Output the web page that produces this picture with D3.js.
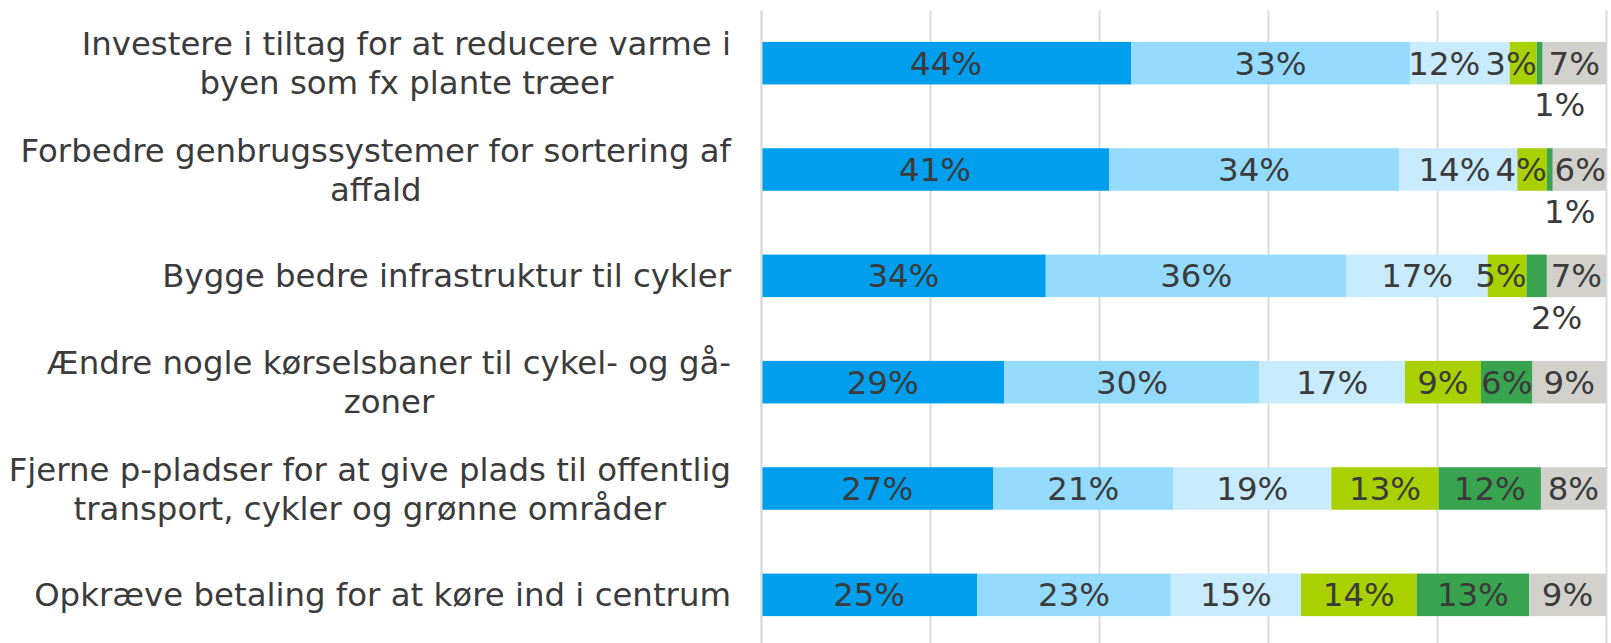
<!DOCTYPE html>
<html>
<head lang="da">
    <meta charset="UTF-8">
    <title>Tiltag</title>
    <style>
        body { margin: 0; background: #fff; }
        text { font-family: "DejaVu Sans", Verdana, sans-serif; fill: #3b3b3b; }
    </style>
</head>
<body>
<div id="chart"></div>
<script src="https://cdn.jsdelivr.net/npm/d3@7/dist/d3.min.js"></script>
<script>
// categories, top to bottom (line breaks as in the original)
var categories = [
    "Investere i tiltag for at reducere varme i\nbyen som fx plante træer",
    "Forbedre genbrugssystemer for sortering af\naffald",
    "Bygge bedre infrastruktur til cykler",
    "Ændre nogle kørselsbaner til cykel- og gå-\nzoner",
    "Fjerne p-pladser for at give plads til offentlig\ntransport, cykler og grønne områder",
    "Opkræve betaling for at køre ind i centrum"
];

// bar shares, one array per segment
var s1 = [43.8, 41.2, 33.7, 28.8, 27.5, 25.6];
var s2 = [33.0, 34.3, 35.6, 30.2, 21.3, 22.9];
var s3 = [11.8, 14.0, 16.7, 17.2, 18.7, 15.4];
var s4 = [3.2, 3.5, 4.6, 9.0, 12.7, 13.7];
var s5 = [0.7, 0.7, 2.4, 6.1, 12.1, 13.3];
var s6 = [7.5, 6.3, 7.0, 8.7, 7.7, 9.1];

// percentages as printed on the bars
var p1 = [44, 41, 34, 29, 27, 25];
var p2 = [33, 34, 36, 30, 21, 23];
var p3 = [12, 14, 17, 17, 19, 15];
var p4 = [3, 4, 5, 9, 13, 14];
var p5 = [1, 1, 2, 6, 12, 13];
var p6 = [7, 6, 7, 9, 8, 9];

var gridTicks = [0, 20, 40, 60, 80, 100];

var series = [s1, s2, s3, s4, s5, s6];
var printed = [p1, p2, p3, p4, p5, p6];
var keys = ["s1", "s2", "s3", "s4", "s5", "s6"];
var colors = ["#009fee", "#95dbfe", "#c9ebfe", "#a9d000", "#39a450", "#d1d0cb"];

var width = 1611, height = 643;
var plotL = 761, plotR = 1606, plotT = 10, plotB = 648;
var fontSize = 32.4;

var table = categories.map(function (c, i) {
    var row = { cat: c };
    keys.forEach(function (k, j) { row[k] = series[j][i]; row["p" + k] = printed[j][i]; });
    return row;
});

var x = d3.scaleLinear().domain([0, 100]).range([plotL, plotR]);
var y = d3.scaleBand().domain(categories).range([plotT, plotB])
    .paddingInner(0.6).paddingOuter(0.3);
var color = d3.scaleOrdinal().domain(keys).range(colors);

var svg = d3.select("#chart").append("svg")
    .attr("width", width)
    .attr("height", height);

// vertical gridlines
svg.append("g")
    .attr("transform", "translate(0," + plotT + ")")
    .call(d3.axisBottom(x).tickValues(gridTicks).tickSize(height - plotT + 10).tickFormat(""))
    .call(function (g) {
        g.select(".domain").remove();
        g.selectAll(".tick line").attr("stroke", "#dcdcdc").attr("stroke-width", 2);
    });

var stacked = d3.stack().keys(keys)(table);

var layers = svg.append("g").selectAll("g")
    .data(stacked)
    .enter().append("g")
    .attr("fill", function (d) { return color(d.key); });

layers.selectAll("rect")
    .data(function (d) { return d; })
    .enter().append("rect")
    .attr("x", function (d) { return x(d[0]); })
    .attr("y", function (d) { return y(d.data.cat); })
    .attr("width", function (d) { return x(d[1]) - x(d[0]); })
    .attr("height", y.bandwidth());

// data labels
var labelG = svg.append("g").attr("font-size", fontSize);
categories.forEach(function (c, i) {
    var yc = y(c) + y.bandwidth() / 2;
    var inside = [];
    stacked.forEach(function (layer) {
        var d = layer[i];
        var x0 = x(d[0]), x1 = x(d[1]), w = x1 - x0;
        var t = labelG.append("text")
            .attr("text-anchor", "middle")
            .text(d.data["p" + layer.key] + "%");
        var tw = t.node().getComputedTextLength();
        if (w < 25) {
            // too thin: Excel drops the label below the bar
            t.attr("x", (x0 + x1) / 2 + 20)
                .attr("y", y(c) + y.bandwidth() + 32);
        } else {
            var cx = (tw > w - 2) ? x1 - tw / 2 : (x0 + x1) / 2;
            t.attr("y", yc).attr("dy", "0.36em");
            inside.push({ t: t, cx: cx, tw: tw });
        }
    });
    // push overlapping labels leftwards
    for (var k = inside.length - 2; k >= 0; k--) {
        var a = inside[k], b = inside[k + 1];
        var limit = b.cx - b.tw / 2 - 5;
        if (a.cx + a.tw / 2 > limit) a.cx = limit - a.tw / 2;
    }
    inside.forEach(function (o) { o.t.attr("x", o.cx); });
});

// category labels: block right aligned, lines centred in the block
var catG = svg.append("g").attr("font-size", fontSize);
var lineH = 39;
categories.forEach(function (c) {
    var lines = c.split("\n");
    var yc = y(c) + y.bandwidth() / 2;
    var t = catG.append("text").attr("text-anchor", "middle");
    var spans = lines.map(function (l, j) {
        return t.append("tspan")
            .attr("y", yc + 11.5 - (lines.length - 1) * lineH / 2 + j * lineH)
            .text(l);
    });
    var maxW = d3.max(spans, function (s) { return s.node().getComputedTextLength(); });
    spans.forEach(function (s) { s.attr("x", 731 - maxW / 2); });
});

// left axis line
svg.append("g")
    .attr("transform", "translate(" + plotL + ",0)")
    .call(d3.axisLeft(d3.scaleLinear().range([plotT, height + 5])).ticks(0).tickSize(0).tickFormat(""))
    .call(function (g) {
        g.select(".domain").attr("stroke", "#dcdcdc").attr("stroke-width", 2);
    });
</script>
</body>
</html>
